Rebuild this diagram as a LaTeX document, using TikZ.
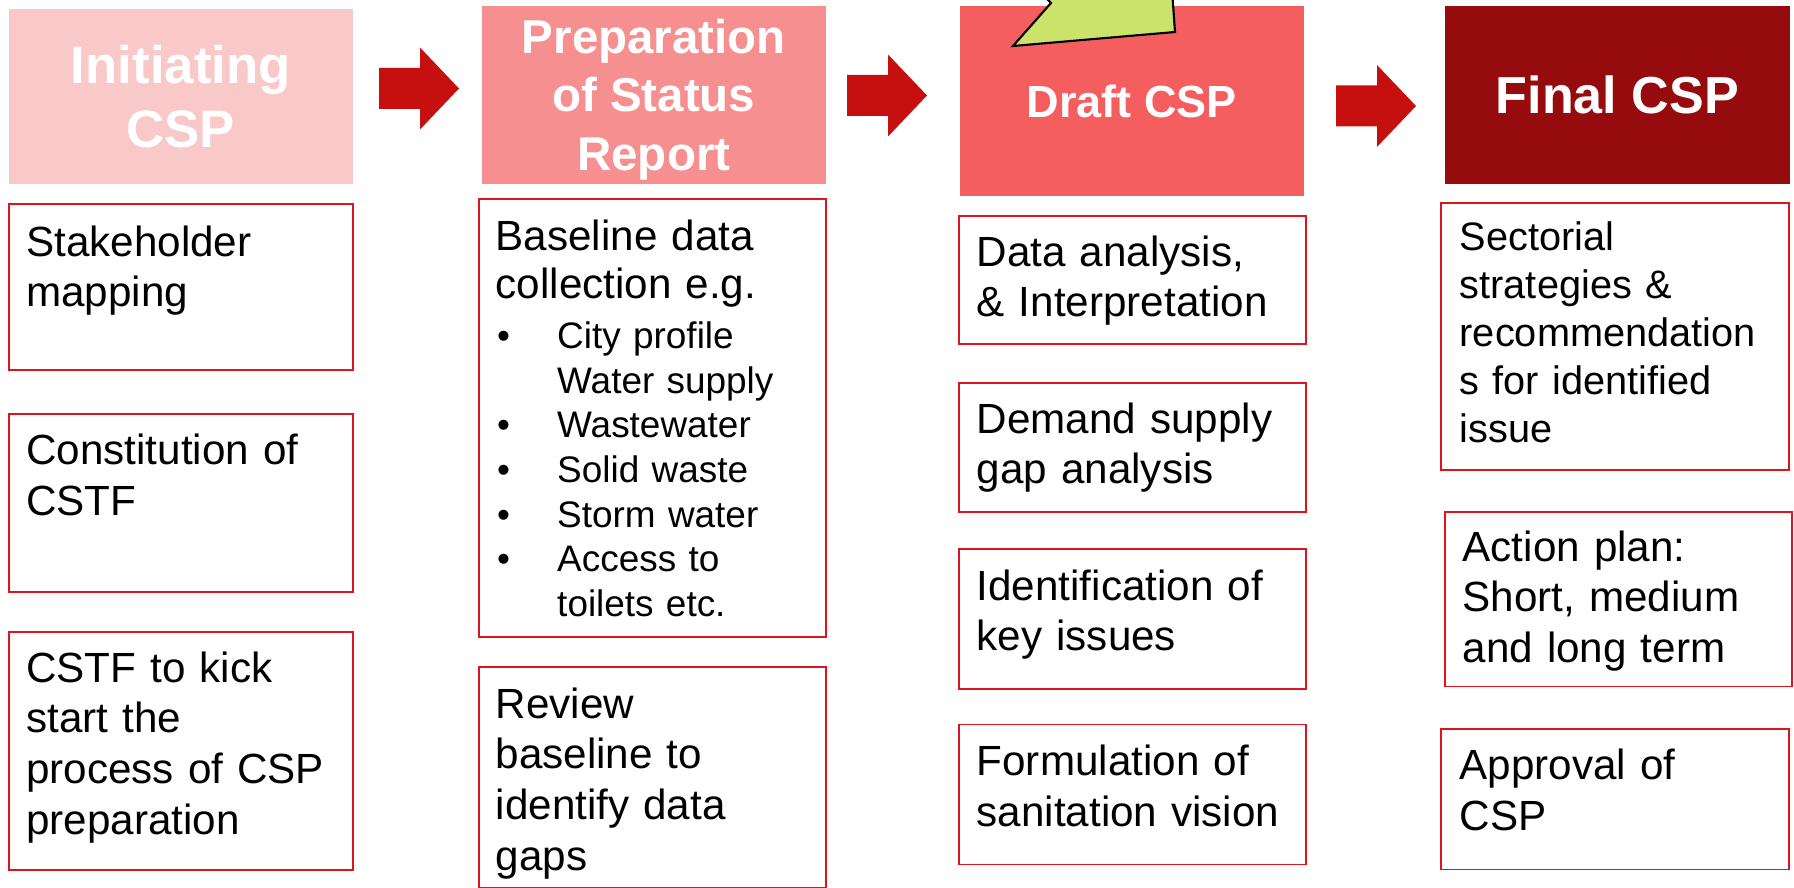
\documentclass[tikz,border=0pt]{standalone}
\usepackage{fontspec}
\setmainfont{Liberation Sans}

\definecolor{initfill}{RGB}{249,200,200}
\definecolor{prepfill}{RGB}{246,144,144}
\definecolor{draftfill}{RGB}{244,94,94}
\definecolor{finalfill}{RGB}{150,12,14}
\definecolor{arrowred}{RGB}{198,16,16}
\definecolor{boxred}{RGB}{220,20,30}
\definecolor{flaggreen}{RGB}{203,226,107}

\newcommand\listdot{\makebox[0.6cm][l]{\textbullet}}
\newcommand\listgap{\hspace*{0.6cm}}

\begin{document}
\begin{tikzpicture}[x=0.01cm,y=-0.01cm,
  head/.style={anchor=north west, inner sep=0pt, text=white, align=center, text depth=0pt},
  box/.style={anchor=north west, draw=boxred, line width=0.45pt, inner sep=0pt},
  body/.style={anchor=base west, inner sep=0pt, text width=3.4cm, align=left, font=\fontsize{12}{14.5}\selectfont},
  blockarrow/.style={fill=arrowred},
  flag/.style={fill=flaggreen, draw=black, line width=0.6pt, line join=miter}]
\useasboundingbox (0,0) rectangle (1794,888);

% stage headings
\node[head, fill=initfill, minimum width=3.44cm, minimum height=1.75cm, font=\bfseries\fontsize{15}{18.2}\selectfont] (init) at (8,8) {Initiating\\CSP};
\node[head, fill=prepfill, minimum width=3.44cm, minimum height=1.78cm, font=\bfseries\fontsize{13.5}{16.6}\selectfont] (prep) at (481,5) {Preparation\\of Status\\Report};
\node[head, fill=draftfill, minimum width=3.44cm, minimum height=1.90cm, font=\bfseries\fontsize{12.8}{15}\selectfont] (draft) at (959,5) {Draft CSP};
\node[head, fill=finalfill, minimum width=3.45cm, minimum height=1.78cm, font=\bfseries\fontsize{14.8}{17}\selectfont] (final) at (1444,5) {Final CSP};

\begin{scope}
\clip (0,0) rectangle (1794,888);
\draw[flag] (1045,-3) -- (1051,3) -- (1013,46) -- (1175,32) -- (1172,-10) -- (1045,-10) -- cycle;
\end{scope}

% arrows between stages
\foreach \x/\y in {379/88.5, 847/95.5, 1336/106}
  \fill[blockarrow] (\x,\y-20.5) -- ++(41,0) -- ++(0,-20.5) -- ++(39,41) -- ++(-39,41) -- ++(0,-20.5) -- ++(-41,0) -- cycle;

% column 1
\node[box, minimum width=3.44cm, minimum height=1.66cm] (stakebox) at (8,203) {};
\node[body] (stake) at (25.6,256) {Stakeholder\\mapping};
\node[box, minimum width=3.44cm, minimum height=1.78cm] (constbox) at (8,413) {};
\node[body] (const) at (25.6,464.5) {Constitution of\\CSTF};
\node[box, minimum width=3.44cm, minimum height=2.38cm] (kickbox) at (8,631) {};
\node[body] (kick) at (25.6,682) {CSTF to kick\\start the\\process of CSP\\preparation};

% column 2
\node[box, minimum width=3.47cm, minimum height=4.38cm] (basebox) at (478,198) {};
\node[body, font=\fontsize{12}{13.9}\selectfont] (base) at (495,250) {Baseline data\\collection e.g.};
\node[body, font=\fontsize{10.5}{12.7}\selectfont] (baselist) at (496.5,348.5) {\listdot City profile\\\listgap Water supply\\\listdot Wastewater\\\listdot Solid waste\\\listdot Storm water\\\listdot Access to\\\listgap toilets etc.};
\node[box, minimum width=3.47cm, minimum height=2.21cm] (reviewbox) at (478,666) {};
\node[body] (review) at (495,718) {Review\\baseline to\\identify data\\gaps};

% column 3
\node[box, minimum width=3.47cm, minimum height=1.28cm] (databox) at (958,215) {};
\node[body] (data) at (976,266) {Data analysis,\\\& Interpretation};
\node[box, minimum width=3.47cm, minimum height=1.29cm] (demandbox) at (958,382) {};
\node[body] (demand) at (976,433) {Demand supply\\gap analysis};
\node[box, minimum width=3.47cm, minimum height=1.40cm] (identbox) at (958,548) {};
\node[body] (ident) at (976,600) {Identification of\\key issues};
\node[box, minimum width=3.47cm, minimum height=1.40cm] (visionbox) at (958,723.5) {};
\node[body] (vision) at (976,775) {Formulation of\\sanitation vision};

% column 4
\node[box, minimum width=3.48cm, minimum height=2.67cm] (sectbox) at (1440,202) {};
\node[body, font=\fontsize{11.3}{13.7}\selectfont] (sect) at (1459,250) {Sectorial\\strategies \&\\recommendation\\s for identified\\issue};
\node[box, minimum width=3.47cm, minimum height=1.745cm] (actionbox) at (1444,511) {};
\node[body] (action) at (1462,561) {Action plan:\\Short, medium\\and long term};
\node[box, minimum width=3.48cm, minimum height=1.405cm] (approvebox) at (1440,728) {};
\node[body] (approve) at (1459,779) {Approval of\\CSP};

\end{tikzpicture}
\end{document}
